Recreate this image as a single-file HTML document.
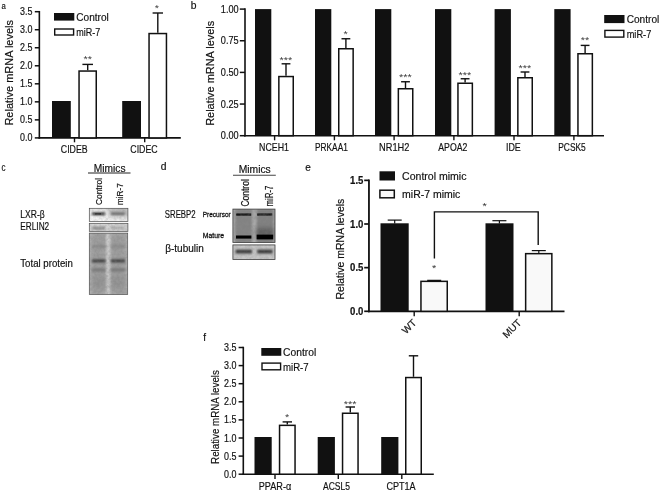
<!DOCTYPE html>
<html lang="en">
<head>
<meta charset="utf-8">
<title>Figure: miR-7 regulates lipid metabolism genes</title>
<style>
html,body{margin:0;padding:0;background:#fff;}
body{width:660px;height:492px;overflow:hidden;}
svg{display:block;font-family:'Liberation Sans', sans-serif;fill:#111;}
text{stroke:#111;stroke-width:0.18px;}
text.s{stroke:none;}
</style>
</head>
<body>
<svg width="660" height="492" viewBox="0 0 660 492">
<rect x="0" y="0" width="660" height="492" fill="#fff"/>
<defs>
<filter id="bl05" x="-20%" y="-200%" width="140%" height="500%"><feGaussianBlur stdDeviation="0.5"/></filter>
<filter id="bl07" x="-20%" y="-200%" width="140%" height="500%"><feGaussianBlur stdDeviation="0.7"/></filter>
<filter id="bl12" x="-30%" y="-200%" width="160%" height="500%"><feGaussianBlur stdDeviation="1.15"/></filter>
<filter id="bl1" x="-30%" y="-200%" width="160%" height="500%"><feGaussianBlur stdDeviation="0.9"/></filter>
<filter id="bl2" x="-30%" y="-100%" width="160%" height="300%"><feGaussianBlur stdDeviation="2"/></filter>
<filter id="noise" x="0" y="0" width="100%" height="100%"><feTurbulence type="fractalNoise" baseFrequency="0.35" numOctaves="2" seed="7" result="t"/><feColorMatrix type="matrix" values="0 0 0 0 0.2  0 0 0 0 0.2  0 0 0 0 0.2  1.6 0 0 0 -0.55"/><feGaussianBlur stdDeviation="0.5"/></filter>
<linearGradient id="gc1" x1="0" y1="1" x2="1" y2="0"><stop offset="0" stop-color="#fbfbfb"/><stop offset="0.45" stop-color="#ececec"/><stop offset="1" stop-color="#cfcfcf"/></linearGradient>
<clipPath id="cc1"><rect x="89.3" y="208.3" width="38.6" height="13.3"/></clipPath>
<clipPath id="cc2"><rect x="89.3" y="223.3" width="38.6" height="8.2"/></clipPath>
<clipPath id="cc3"><rect x="89.3" y="233.1" width="38.4" height="61.4"/></clipPath>
<clipPath id="cd1"><rect x="232.9" y="209.1" width="42.1" height="33.3"/></clipPath>
<clipPath id="cd2"><rect x="232.9" y="244.9" width="42.1" height="14.6"/></clipPath>
</defs>
<g id="panel-a">
<text x="1.4" y="9.2" font-size="9.5" textLength="4.3" lengthAdjust="spacingAndGlyphs">a</text>
<text x="13.0" y="72.8" font-size="11" textLength="105.5" lengthAdjust="spacingAndGlyphs" text-anchor="middle" transform="rotate(-90 13.0 72.8)">Relative mRNA levels</text>
<line x1="34.8" y1="137.9" x2="39.35" y2="137.9" stroke="#111" stroke-width="1.5"/>
<text x="32.5" y="141.45" font-size="10.6" textLength="12.4" lengthAdjust="spacingAndGlyphs" text-anchor="end">0.0</text>
<line x1="34.8" y1="119.87" x2="39.35" y2="119.87" stroke="#111" stroke-width="1.5"/>
<text x="32.5" y="123.42" font-size="10.6" textLength="12.4" lengthAdjust="spacingAndGlyphs" text-anchor="end">0.5</text>
<line x1="34.8" y1="101.84" x2="39.35" y2="101.84" stroke="#111" stroke-width="1.5"/>
<text x="32.5" y="105.39" font-size="10.6" textLength="12.4" lengthAdjust="spacingAndGlyphs" text-anchor="end">1.0</text>
<line x1="34.8" y1="83.81" x2="39.35" y2="83.81" stroke="#111" stroke-width="1.5"/>
<text x="32.5" y="87.36" font-size="10.6" textLength="12.4" lengthAdjust="spacingAndGlyphs" text-anchor="end">1.5</text>
<line x1="34.8" y1="65.78" x2="39.35" y2="65.78" stroke="#111" stroke-width="1.5"/>
<text x="32.5" y="69.33" font-size="10.6" textLength="12.4" lengthAdjust="spacingAndGlyphs" text-anchor="end">2.0</text>
<line x1="34.8" y1="47.75" x2="39.35" y2="47.75" stroke="#111" stroke-width="1.5"/>
<text x="32.5" y="51.3" font-size="10.6" textLength="12.4" lengthAdjust="spacingAndGlyphs" text-anchor="end">2.5</text>
<line x1="34.8" y1="29.72" x2="39.35" y2="29.72" stroke="#111" stroke-width="1.5"/>
<text x="32.5" y="33.27" font-size="10.6" textLength="12.4" lengthAdjust="spacingAndGlyphs" text-anchor="end">3.0</text>
<line x1="34.8" y1="11.689999999999998" x2="39.35" y2="11.689999999999998" stroke="#111" stroke-width="1.5"/>
<text x="32.5" y="15.24" font-size="10.6" textLength="12.4" lengthAdjust="spacingAndGlyphs" text-anchor="end">3.5</text>
<line x1="39.35" y1="10.939999999999998" x2="39.35" y2="138.65" stroke="#111" stroke-width="1.6"/>
<line x1="38.550000000000004" y1="137.9" x2="180.8" y2="137.9" stroke="#111" stroke-width="1.6"/>
<rect x="54.00" y="13.00" width="20.30" height="7.60" fill="#111"/>
<rect x="54.70" y="29.00" width="18.90" height="6.00" fill="#fff" stroke="#111" stroke-width="1.4"/>
<text x="76.3" y="20.5" font-size="11" textLength="32.5" lengthAdjust="spacingAndGlyphs">Control</text>
<text x="76.3" y="35.5" font-size="11" textLength="24" lengthAdjust="spacingAndGlyphs">miR-7</text>
<rect x="52.00" y="101.00" width="18.80" height="36.90" fill="#111"/>
<rect x="79.05" y="71.05" width="17.20" height="66.85" fill="#fff" stroke="#111" stroke-width="1.5"/>
<line x1="87.7" y1="64.4" x2="87.7" y2="70.3" stroke="#111" stroke-width="1.4"/>
<line x1="82.4" y1="64.4" x2="93.0" y2="64.4" stroke="#111" stroke-width="1.4"/>
<text x="87.7" y="62.29" font-size="9.8" textLength="8.5" lengthAdjust="spacingAndGlyphs" text-anchor="middle" fill="#3a3a3a" class="s">**</text>
<rect x="122.20" y="101.00" width="18.80" height="36.90" fill="#111"/>
<rect x="149.05" y="33.55" width="17.40" height="104.35" fill="#fff" stroke="#111" stroke-width="1.5"/>
<line x1="157.8" y1="13.0" x2="157.8" y2="32.8" stroke="#111" stroke-width="1.4"/>
<line x1="152.60000000000002" y1="13.0" x2="163.0" y2="13.0" stroke="#111" stroke-width="1.4"/>
<text x="156.9" y="10.59" font-size="9.8" textLength="4.25" lengthAdjust="spacingAndGlyphs" text-anchor="middle" fill="#3a3a3a" class="s">*</text>
<line x1="74.5" y1="137.9" x2="74.5" y2="142.3" stroke="#111" stroke-width="1.4"/>
<line x1="144.7" y1="137.9" x2="144.7" y2="142.3" stroke="#111" stroke-width="1.4"/>
<text x="74.2" y="152.6" font-size="10.8" textLength="26.8" lengthAdjust="spacingAndGlyphs" text-anchor="middle">CIDEB</text>
<text x="144.0" y="152.6" font-size="10.8" textLength="27.4" lengthAdjust="spacingAndGlyphs" text-anchor="middle">CIDEC</text>
</g>
<g id="panel-b">
<text x="190.7" y="8.8" font-size="10.3">b</text>
<text x="214.2" y="73.3" font-size="11" textLength="105" lengthAdjust="spacingAndGlyphs" text-anchor="middle" transform="rotate(-90 214.2 73.3)">Relative mRNA levels</text>
<line x1="239.8" y1="135.7" x2="245" y2="135.7" stroke="#111" stroke-width="1.5"/>
<text x="238.6" y="139.25" font-size="10.6" textLength="17.8" lengthAdjust="spacingAndGlyphs" text-anchor="end">0.00</text>
<line x1="239.8" y1="104.04999999999998" x2="245" y2="104.04999999999998" stroke="#111" stroke-width="1.5"/>
<text x="238.6" y="107.6" font-size="10.6" textLength="17.8" lengthAdjust="spacingAndGlyphs" text-anchor="end">0.25</text>
<line x1="239.8" y1="72.39999999999999" x2="245" y2="72.39999999999999" stroke="#111" stroke-width="1.5"/>
<text x="238.6" y="75.95" font-size="10.6" textLength="17.8" lengthAdjust="spacingAndGlyphs" text-anchor="end">0.50</text>
<line x1="239.8" y1="40.75" x2="245" y2="40.75" stroke="#111" stroke-width="1.5"/>
<text x="238.6" y="44.3" font-size="10.6" textLength="17.8" lengthAdjust="spacingAndGlyphs" text-anchor="end">0.75</text>
<line x1="239.8" y1="9.099999999999994" x2="245" y2="9.099999999999994" stroke="#111" stroke-width="1.5"/>
<text x="238.6" y="12.65" font-size="10.6" textLength="17.8" lengthAdjust="spacingAndGlyphs" text-anchor="end">1.00</text>
<line x1="245" y1="8.349999999999994" x2="245" y2="136.45" stroke="#111" stroke-width="1.6"/>
<line x1="244.2" y1="135.7" x2="604" y2="135.7" stroke="#111" stroke-width="1.6"/>
<rect x="604.20" y="15.00" width="20.30" height="8.10" fill="#111"/>
<rect x="604.90" y="30.40" width="18.90" height="6.70" fill="#fff" stroke="#111" stroke-width="1.4"/>
<text x="626.7" y="23.0" font-size="11.3" textLength="32.6" lengthAdjust="spacingAndGlyphs">Control</text>
<text x="626.7" y="37.5" font-size="11.3" textLength="24.6" lengthAdjust="spacingAndGlyphs">miR-7</text>
<rect x="255.00" y="9.10" width="16.30" height="126.60" fill="#111"/>
<rect x="278.85" y="76.55" width="14.40" height="59.15" fill="#fff" stroke="#111" stroke-width="1.5"/>
<line x1="286.0" y1="63.8" x2="286.0" y2="75.8" stroke="#111" stroke-width="1.4"/>
<line x1="281.6" y1="63.8" x2="290.4" y2="63.8" stroke="#111" stroke-width="1.4"/>
<text x="285.8" y="62.79" font-size="9.8" textLength="12.75" lengthAdjust="spacingAndGlyphs" text-anchor="middle" fill="#3a3a3a" class="s">***</text>
<line x1="274.6" y1="135.7" x2="274.6" y2="140.3" stroke="#111" stroke-width="1.4"/>
<text x="274.0" y="151.2" font-size="10.4" textLength="29.8" lengthAdjust="spacingAndGlyphs" text-anchor="middle">NCEH1</text>
<rect x="315.00" y="9.10" width="16.30" height="126.60" fill="#111"/>
<rect x="338.75" y="48.75" width="14.40" height="86.95" fill="#fff" stroke="#111" stroke-width="1.5"/>
<line x1="345.9" y1="38.75" x2="345.9" y2="48.0" stroke="#111" stroke-width="1.4"/>
<line x1="341.5" y1="38.75" x2="350.29999999999995" y2="38.75" stroke="#111" stroke-width="1.4"/>
<text x="345.7" y="37.09" font-size="9.8" textLength="4.25" lengthAdjust="spacingAndGlyphs" text-anchor="middle" fill="#3a3a3a" class="s">*</text>
<line x1="334.4" y1="135.7" x2="334.4" y2="140.3" stroke="#111" stroke-width="1.4"/>
<text x="331.4" y="151.2" font-size="10.4" textLength="32.8" lengthAdjust="spacingAndGlyphs" text-anchor="middle">PRKAA1</text>
<rect x="375.00" y="9.10" width="16.30" height="126.60" fill="#111"/>
<rect x="398.35" y="88.75" width="14.40" height="46.95" fill="#fff" stroke="#111" stroke-width="1.5"/>
<line x1="405.5" y1="81.75" x2="405.5" y2="88.0" stroke="#111" stroke-width="1.4"/>
<line x1="401.1" y1="81.75" x2="409.9" y2="81.75" stroke="#111" stroke-width="1.4"/>
<text x="405.3" y="80.29" font-size="9.8" textLength="12.75" lengthAdjust="spacingAndGlyphs" text-anchor="middle" fill="#3a3a3a" class="s">***</text>
<line x1="394.1" y1="135.7" x2="394.1" y2="140.3" stroke="#111" stroke-width="1.4"/>
<text x="394.2" y="151.2" font-size="10.4" textLength="30.3" lengthAdjust="spacingAndGlyphs" text-anchor="middle">NR1H2</text>
<rect x="435.00" y="9.10" width="16.30" height="126.60" fill="#111"/>
<rect x="457.95" y="83.25" width="14.40" height="52.45" fill="#fff" stroke="#111" stroke-width="1.5"/>
<line x1="465.09999999999997" y1="78.75" x2="465.09999999999997" y2="82.5" stroke="#111" stroke-width="1.4"/>
<line x1="460.7" y1="78.75" x2="469.49999999999994" y2="78.75" stroke="#111" stroke-width="1.4"/>
<text x="464.9" y="77.89" font-size="9.8" textLength="12.75" lengthAdjust="spacingAndGlyphs" text-anchor="middle" fill="#3a3a3a" class="s">***</text>
<line x1="453.9" y1="135.7" x2="453.9" y2="140.3" stroke="#111" stroke-width="1.4"/>
<text x="452.8" y="151.2" font-size="10.4" textLength="29.0" lengthAdjust="spacingAndGlyphs" text-anchor="middle">APOA2</text>
<rect x="494.60" y="9.10" width="16.30" height="126.60" fill="#111"/>
<rect x="517.85" y="77.75" width="14.40" height="57.95" fill="#fff" stroke="#111" stroke-width="1.5"/>
<line x1="525.0" y1="72.0" x2="525.0" y2="77.0" stroke="#111" stroke-width="1.4"/>
<line x1="520.6" y1="72.0" x2="529.4" y2="72.0" stroke="#111" stroke-width="1.4"/>
<text x="524.8000000000001" y="70.99" font-size="9.8" textLength="12.75" lengthAdjust="spacingAndGlyphs" text-anchor="middle" fill="#3a3a3a" class="s">***</text>
<line x1="514" y1="135.7" x2="514" y2="140.3" stroke="#111" stroke-width="1.4"/>
<text x="513.4" y="151.2" font-size="10.4" textLength="14.8" lengthAdjust="spacingAndGlyphs" text-anchor="middle">IDE</text>
<rect x="554.30" y="9.10" width="16.30" height="126.60" fill="#111"/>
<rect x="577.95" y="53.75" width="14.40" height="81.95" fill="#fff" stroke="#111" stroke-width="1.5"/>
<line x1="585.1" y1="45.4" x2="585.1" y2="53.0" stroke="#111" stroke-width="1.4"/>
<line x1="580.7" y1="45.4" x2="589.5" y2="45.4" stroke="#111" stroke-width="1.4"/>
<text x="584.9000000000001" y="43.29" font-size="9.8" textLength="8.5" lengthAdjust="spacingAndGlyphs" text-anchor="middle" fill="#3a3a3a" class="s">**</text>
<line x1="573.9" y1="135.7" x2="573.9" y2="140.3" stroke="#111" stroke-width="1.4"/>
<text x="572.0" y="151.2" font-size="10.4" textLength="27.5" lengthAdjust="spacingAndGlyphs" text-anchor="middle">PCSK5</text>
</g>
<g id="panel-c">
<text x="1.6" y="170.9" font-size="10" textLength="4.0" lengthAdjust="spacingAndGlyphs">c</text>
<text x="93.8" y="171.8" font-size="10.8" textLength="31.7" lengthAdjust="spacingAndGlyphs">Mimics</text>
<line x1="88" y1="173.0" x2="130.5" y2="173.0" stroke="#222" stroke-width="1.1"/>
<text x="101.8" y="205.0" font-size="9.8" textLength="27" lengthAdjust="spacingAndGlyphs" transform="rotate(-90 101.8 205.0)">Control</text>
<text x="122.6" y="205.0" font-size="9.8" textLength="21.7" lengthAdjust="spacingAndGlyphs" transform="rotate(-90 122.6 205.0)">miR-7</text>
<text x="20.3" y="217.7" font-size="10.4" textLength="24.4" lengthAdjust="spacingAndGlyphs">LXR-β</text>
<text x="20.3" y="230.2" font-size="10.4" textLength="28.9" lengthAdjust="spacingAndGlyphs">ERLIN2</text>
<text x="20.3" y="267.2" font-size="10.4" textLength="52.5" lengthAdjust="spacingAndGlyphs">Total protein</text>
<g clip-path="url(#cc1)">
<rect x="89.30" y="208.30" width="38.60" height="13.30" fill="url(#gc1)"/>
<rect x="109" y="208" width="19" height="8" fill="#9a9a9a" opacity="0.55" filter="url(#bl2)"/>
<rect x="92.0" y="212.7" width="13.0" height="2.3" fill="#101010" filter="url(#bl1)"/>
<rect x="95" y="213.2" width="6" height="1.4" fill="#000" opacity="0.5" filter="url(#bl07)"/>
<rect x="111" y="212.6" width="13.8" height="2.2" fill="#5a5a5a" filter="url(#bl1)"/>
<rect x="89.3" y="208.3" width="38.6" height="13.3" filter="url(#noise)" opacity="0.3"/>
</g>
<rect x="89.30" y="208.30" width="38.60" height="13.30" fill="none" stroke="#4a4a4a" stroke-width="0.7"/>
<g clip-path="url(#cc2)">
<rect x="89.30" y="223.30" width="38.60" height="8.20" fill="#d2d2d2"/>
<rect x="92.3" y="227.1" width="12.6" height="2.2" fill="#7a7a7a" filter="url(#bl1)"/>
<rect x="111" y="227.1" width="13.6" height="2.2" fill="#a8a8a8" filter="url(#bl1)"/>
<rect x="89.3" y="223.3" width="38.6" height="8.2" filter="url(#noise)" opacity="0.35"/>
</g>
<rect x="89.30" y="223.30" width="38.60" height="8.20" fill="none" stroke="#4a4a4a" stroke-width="0.7"/>
<g clip-path="url(#cc3)">
<rect x="89.30" y="233.10" width="38.40" height="61.40" fill="#b4b4b4"/>
<rect x="91.2" y="233" width="15.2" height="62" fill="#9e9e9e" filter="url(#bl2)"/>
<rect x="110.2" y="233" width="15.8" height="62" fill="#9e9e9e" filter="url(#bl2)"/>
<rect x="106.4" y="233" width="3.8" height="62" fill="#cecece" filter="url(#bl12)"/>
<rect x="92.0" y="245.2" width="13.6" height="2.4" fill="#868686" filter="url(#bl1)"/>
<rect x="92.0" y="259.4" width="13.6" height="3.0" fill="#3a3a3a" filter="url(#bl1)"/>
<rect x="92.0" y="268.3" width="13.6" height="3.2" fill="#787878" filter="url(#bl12)"/>
<rect x="92.0" y="276" width="13.6" height="12" fill="#909090" opacity="0.6" filter="url(#bl2)"/>
<rect x="110.8" y="245.2" width="14.2" height="2.4" fill="#868686" filter="url(#bl1)"/>
<rect x="110.8" y="259.4" width="14.2" height="3.0" fill="#3a3a3a" filter="url(#bl1)"/>
<rect x="110.8" y="268.3" width="14.2" height="3.2" fill="#787878" filter="url(#bl12)"/>
<rect x="110.8" y="276" width="14.2" height="12" fill="#909090" opacity="0.6" filter="url(#bl2)"/>
<rect x="89.3" y="233.1" width="38.4" height="61.4" filter="url(#noise)" opacity="0.4"/>
</g>
<rect x="89.30" y="233.10" width="38.40" height="61.40" fill="none" stroke="#4a4a4a" stroke-width="0.7"/>
</g>
<g id="panel-d">
<text x="160.7" y="170.4" font-size="10.3">d</text>
<text x="238.7" y="173.1" font-size="10.8" textLength="32.1" lengthAdjust="spacingAndGlyphs">Mimics</text>
<line x1="233" y1="175.2" x2="275.8" y2="175.2" stroke="#444" stroke-width="1.1"/>
<text x="248.8" y="206.6" font-size="10" textLength="27.4" lengthAdjust="spacingAndGlyphs" transform="rotate(-90 248.8 206.6)">Control</text>
<text x="272.9" y="206.6" font-size="10" textLength="21" lengthAdjust="spacingAndGlyphs" transform="rotate(-90 272.9 206.6)">miR-7</text>
<text x="164.8" y="218.2" font-size="10.5" textLength="30.8" lengthAdjust="spacingAndGlyphs">SREBP2</text>
<text x="202.8" y="217.0" font-size="7.4" textLength="27.9" lengthAdjust="spacingAndGlyphs" fill="#222" style="stroke-width:0.3px">Precursor</text>
<text x="202.8" y="237.7" font-size="7.4" textLength="21.3" lengthAdjust="spacingAndGlyphs" fill="#222" style="stroke-width:0.3px">Mature</text>
<text x="165.2" y="252.2" font-size="11.2" textLength="38.6" lengthAdjust="spacingAndGlyphs">β-tubulin</text>
<g clip-path="url(#cd1)">
<rect x="232.90" y="209.10" width="42.10" height="33.30" fill="#a8a8a8"/>
<rect x="235.2" y="209" width="16.8" height="34" fill="#858585" filter="url(#bl1)"/>
<rect x="256.8" y="209" width="16.6" height="34" fill="#828282" filter="url(#bl1)"/>
<rect x="256.3" y="228" width="17.2" height="9" fill="#4a4a4a" opacity="0.6" filter="url(#bl2)"/>
<rect x="236.2" y="213.4" width="15.0" height="2.3" fill="#141414" filter="url(#bl07)"/>
<rect x="257.2" y="213.4" width="15.0" height="2.3" fill="#1a1a1a" filter="url(#bl07)"/>
<rect x="232.9" y="209.1" width="42.1" height="33.3" filter="url(#noise)" opacity="0.4"/>
<rect x="236.0" y="235.5" width="15.4" height="3.1" fill="#000" filter="url(#bl07)"/>
<rect x="256.6" y="234.6" width="16.6" height="4.8" fill="#000" filter="url(#bl07)"/>
</g>
<rect x="232.90" y="209.10" width="42.10" height="33.30" fill="none" stroke="#3a3a3a" stroke-width="0.8"/>
<g clip-path="url(#cd2)">
<rect x="232.90" y="244.90" width="42.10" height="14.60" fill="#c6c6c6"/>
<rect x="235.6" y="249.6" width="16.4" height="3.9" fill="#383838" filter="url(#bl12)"/>
<rect x="257.2" y="249.6" width="15.4" height="3.9" fill="#383838" filter="url(#bl12)"/>
<rect x="232.9" y="244.9" width="42.1" height="14.6" filter="url(#noise)" opacity="0.25"/>
</g>
<rect x="232.90" y="244.90" width="42.10" height="14.60" fill="none" stroke="#3a3a3a" stroke-width="0.8"/>
</g>
<g id="panel-e">
<text x="305.3" y="170.6" font-size="10">e</text>
<text x="344.4" y="249.1" font-size="10.5" textLength="100.8" lengthAdjust="spacingAndGlyphs" text-anchor="middle" transform="rotate(-90 344.4 249.1)">Relative mRNA levels</text>
<line x1="364.2" y1="311.3" x2="368.95" y2="311.3" stroke="#111" stroke-width="1.7"/>
<text x="363.4" y="315.0" font-size="10.4" textLength="13.3" lengthAdjust="spacingAndGlyphs" text-anchor="end" font-weight="bold">0.0</text>
<line x1="364.2" y1="267.65000000000003" x2="368.95" y2="267.65000000000003" stroke="#111" stroke-width="1.7"/>
<text x="363.4" y="271.35" font-size="10.4" textLength="13.3" lengthAdjust="spacingAndGlyphs" text-anchor="end" font-weight="bold">0.5</text>
<line x1="364.2" y1="224.0" x2="368.95" y2="224.0" stroke="#111" stroke-width="1.7"/>
<text x="363.4" y="227.7" font-size="10.4" textLength="13.3" lengthAdjust="spacingAndGlyphs" text-anchor="end" font-weight="bold">1.0</text>
<line x1="364.2" y1="180.35000000000002" x2="368.95" y2="180.35000000000002" stroke="#111" stroke-width="1.7"/>
<text x="363.4" y="184.05" font-size="10.4" textLength="13.3" lengthAdjust="spacingAndGlyphs" text-anchor="end" font-weight="bold">1.5</text>
<line x1="368.95" y1="179.50000000000003" x2="368.95" y2="312.15000000000003" stroke="#111" stroke-width="1.8"/>
<line x1="368.05" y1="311.3" x2="564.5" y2="311.3" stroke="#111" stroke-width="1.7"/>
<rect x="379.50" y="171.30" width="15.50" height="9.20" fill="#111"/>
<rect x="379.90" y="190.20" width="14.40" height="7.60" fill="#f9f9f9" stroke="#111" stroke-width="1.5"/>
<text x="402.1" y="179.5" font-size="10.8" textLength="64.4" lengthAdjust="spacingAndGlyphs">Control mimic</text>
<text x="402.1" y="198.1" font-size="10.8" textLength="58.2" lengthAdjust="spacingAndGlyphs">miR-7 mimic</text>
<rect x="380.50" y="223.30" width="28.20" height="88.00" fill="#111"/>
<line x1="394.7" y1="220.1" x2="394.7" y2="223.5" stroke="#111" stroke-width="1.2"/>
<line x1="387.7" y1="220.1" x2="401.7" y2="220.1" stroke="#111" stroke-width="1.2"/>
<rect x="420.95" y="281.35" width="26.30" height="29.95" fill="#f9f9f9" stroke="#111" stroke-width="1.5"/>
<line x1="427.2" y1="280.4" x2="441.2" y2="280.4" stroke="#111" stroke-width="1.3"/>
<rect x="485.50" y="223.30" width="28.00" height="88.00" fill="#111"/>
<line x1="499.4" y1="220.7" x2="499.4" y2="223.5" stroke="#111" stroke-width="1.2"/>
<line x1="492.4" y1="220.7" x2="506.4" y2="220.7" stroke="#111" stroke-width="1.2"/>
<rect x="525.65" y="253.65" width="26.20" height="57.65" fill="#f9f9f9" stroke="#111" stroke-width="1.5"/>
<line x1="538.8" y1="250.6" x2="538.8" y2="253.0" stroke="#111" stroke-width="1.2"/>
<line x1="531.8" y1="250.6" x2="545.8" y2="250.6" stroke="#111" stroke-width="1.2"/>
<polyline points="434.4,258.4 434.4,211.9 538.2,211.9 538.2,245" fill="none" stroke="#111" stroke-width="1.4"/>
<text x="434.2" y="271.12" font-size="9.5" textLength="4.25" lengthAdjust="spacingAndGlyphs" text-anchor="middle" fill="#333" class="s">*</text>
<text x="484.6" y="208.91" font-size="9.5" textLength="4.25" lengthAdjust="spacingAndGlyphs" text-anchor="middle" fill="#333" class="s">*</text>
<line x1="414.2" y1="311.3" x2="414.2" y2="316.2" stroke="#111" stroke-width="1.4"/>
<line x1="519.2" y1="311.3" x2="519.2" y2="316.2" stroke="#111" stroke-width="1.4"/>
<text x="417.0" y="323.4" font-size="10" text-anchor="end" transform="rotate(-45 417.0 323.4)">WT</text>
<text x="522.0" y="323.4" font-size="10" text-anchor="end" transform="rotate(-45 522.0 323.4)">MUT</text>
</g>
<g id="panel-f">
<text x="203.2" y="340.6" font-size="10">f</text>
<text x="218.8" y="417.0" font-size="11" textLength="93.8" lengthAdjust="spacingAndGlyphs" text-anchor="middle" transform="rotate(-90 218.8 417.0)">Relative mRNA levels</text>
<line x1="238.6" y1="474.2" x2="243.3" y2="474.2" stroke="#111" stroke-width="1.5"/>
<text x="236.4" y="477.75" font-size="10.6" textLength="12.4" lengthAdjust="spacingAndGlyphs" text-anchor="end">0.0</text>
<line x1="238.6" y1="456.09999999999997" x2="243.3" y2="456.09999999999997" stroke="#111" stroke-width="1.5"/>
<text x="236.4" y="459.65" font-size="10.6" textLength="12.4" lengthAdjust="spacingAndGlyphs" text-anchor="end">0.5</text>
<line x1="238.6" y1="438.0" x2="243.3" y2="438.0" stroke="#111" stroke-width="1.5"/>
<text x="236.4" y="441.55" font-size="10.6" textLength="12.4" lengthAdjust="spacingAndGlyphs" text-anchor="end">1.0</text>
<line x1="238.6" y1="419.9" x2="243.3" y2="419.9" stroke="#111" stroke-width="1.5"/>
<text x="236.4" y="423.45" font-size="10.6" textLength="12.4" lengthAdjust="spacingAndGlyphs" text-anchor="end">1.5</text>
<line x1="238.6" y1="401.79999999999995" x2="243.3" y2="401.79999999999995" stroke="#111" stroke-width="1.5"/>
<text x="236.4" y="405.35" font-size="10.6" textLength="12.4" lengthAdjust="spacingAndGlyphs" text-anchor="end">2.0</text>
<line x1="238.6" y1="383.7" x2="243.3" y2="383.7" stroke="#111" stroke-width="1.5"/>
<text x="236.4" y="387.25" font-size="10.6" textLength="12.4" lengthAdjust="spacingAndGlyphs" text-anchor="end">2.5</text>
<line x1="238.6" y1="365.59999999999997" x2="243.3" y2="365.59999999999997" stroke="#111" stroke-width="1.5"/>
<text x="236.4" y="369.15" font-size="10.6" textLength="12.4" lengthAdjust="spacingAndGlyphs" text-anchor="end">3.0</text>
<line x1="238.6" y1="347.5" x2="243.3" y2="347.5" stroke="#111" stroke-width="1.5"/>
<text x="236.4" y="351.05" font-size="10.6" textLength="12.4" lengthAdjust="spacingAndGlyphs" text-anchor="end">3.5</text>
<line x1="243.3" y1="346.75" x2="243.3" y2="474.95" stroke="#111" stroke-width="1.6"/>
<line x1="242.5" y1="474.2" x2="433.8" y2="474.2" stroke="#111" stroke-width="1.6"/>
<rect x="261.30" y="348.00" width="20.00" height="7.80" fill="#111"/>
<rect x="262.00" y="363.10" width="18.60" height="6.70" fill="#fff" stroke="#111" stroke-width="1.4"/>
<text x="283.0" y="355.8" font-size="11.3" textLength="33.2" lengthAdjust="spacingAndGlyphs">Control</text>
<text x="283.0" y="370.6" font-size="11.3" textLength="25.6" lengthAdjust="spacingAndGlyphs">miR-7</text>
<rect x="254.50" y="437.00" width="17.20" height="37.20" fill="#111"/>
<rect x="279.55" y="425.35" width="15.50" height="48.85" fill="#fff" stroke="#111" stroke-width="1.5"/>
<line x1="287.3" y1="421.9" x2="287.3" y2="424.6" stroke="#111" stroke-width="1.4"/>
<line x1="282.6" y1="421.9" x2="292.0" y2="421.9" stroke="#111" stroke-width="1.4"/>
<text x="287.1" y="420.39" font-size="9.8" textLength="4.25" lengthAdjust="spacingAndGlyphs" text-anchor="middle" fill="#3a3a3a" class="s">*</text>
<line x1="275.0" y1="474.2" x2="275.0" y2="478.9" stroke="#111" stroke-width="1.4"/>
<text x="275.0" y="490.3" font-size="10.4" textLength="32.5" lengthAdjust="spacingAndGlyphs" text-anchor="middle">PPAR-α</text>
<rect x="317.70" y="437.00" width="17.20" height="37.20" fill="#111"/>
<rect x="342.55" y="413.25" width="15.50" height="60.95" fill="#fff" stroke="#111" stroke-width="1.5"/>
<line x1="350.3" y1="407.0" x2="350.3" y2="412.5" stroke="#111" stroke-width="1.4"/>
<line x1="345.6" y1="407.0" x2="355.0" y2="407.0" stroke="#111" stroke-width="1.4"/>
<text x="350.1" y="406.69" font-size="9.8" textLength="12.75" lengthAdjust="spacingAndGlyphs" text-anchor="middle" fill="#3a3a3a" class="s">***</text>
<line x1="338.3" y1="474.2" x2="338.3" y2="478.9" stroke="#111" stroke-width="1.4"/>
<text x="336.5" y="490.3" font-size="10.4" textLength="27.0" lengthAdjust="spacingAndGlyphs" text-anchor="middle">ACSL5</text>
<rect x="381.20" y="437.00" width="17.20" height="37.20" fill="#111"/>
<rect x="405.75" y="377.55" width="15.50" height="96.65" fill="#fff" stroke="#111" stroke-width="1.5"/>
<line x1="413.5" y1="355.8" x2="413.5" y2="376.8" stroke="#111" stroke-width="1.4"/>
<line x1="408.8" y1="355.8" x2="418.2" y2="355.8" stroke="#111" stroke-width="1.4"/>
<line x1="401.8" y1="474.2" x2="401.8" y2="478.9" stroke="#111" stroke-width="1.4"/>
<text x="401.0" y="490.3" font-size="10.4" textLength="29.2" lengthAdjust="spacingAndGlyphs" text-anchor="middle">CPT1A</text>
</g>
</svg>
</body>
</html>
